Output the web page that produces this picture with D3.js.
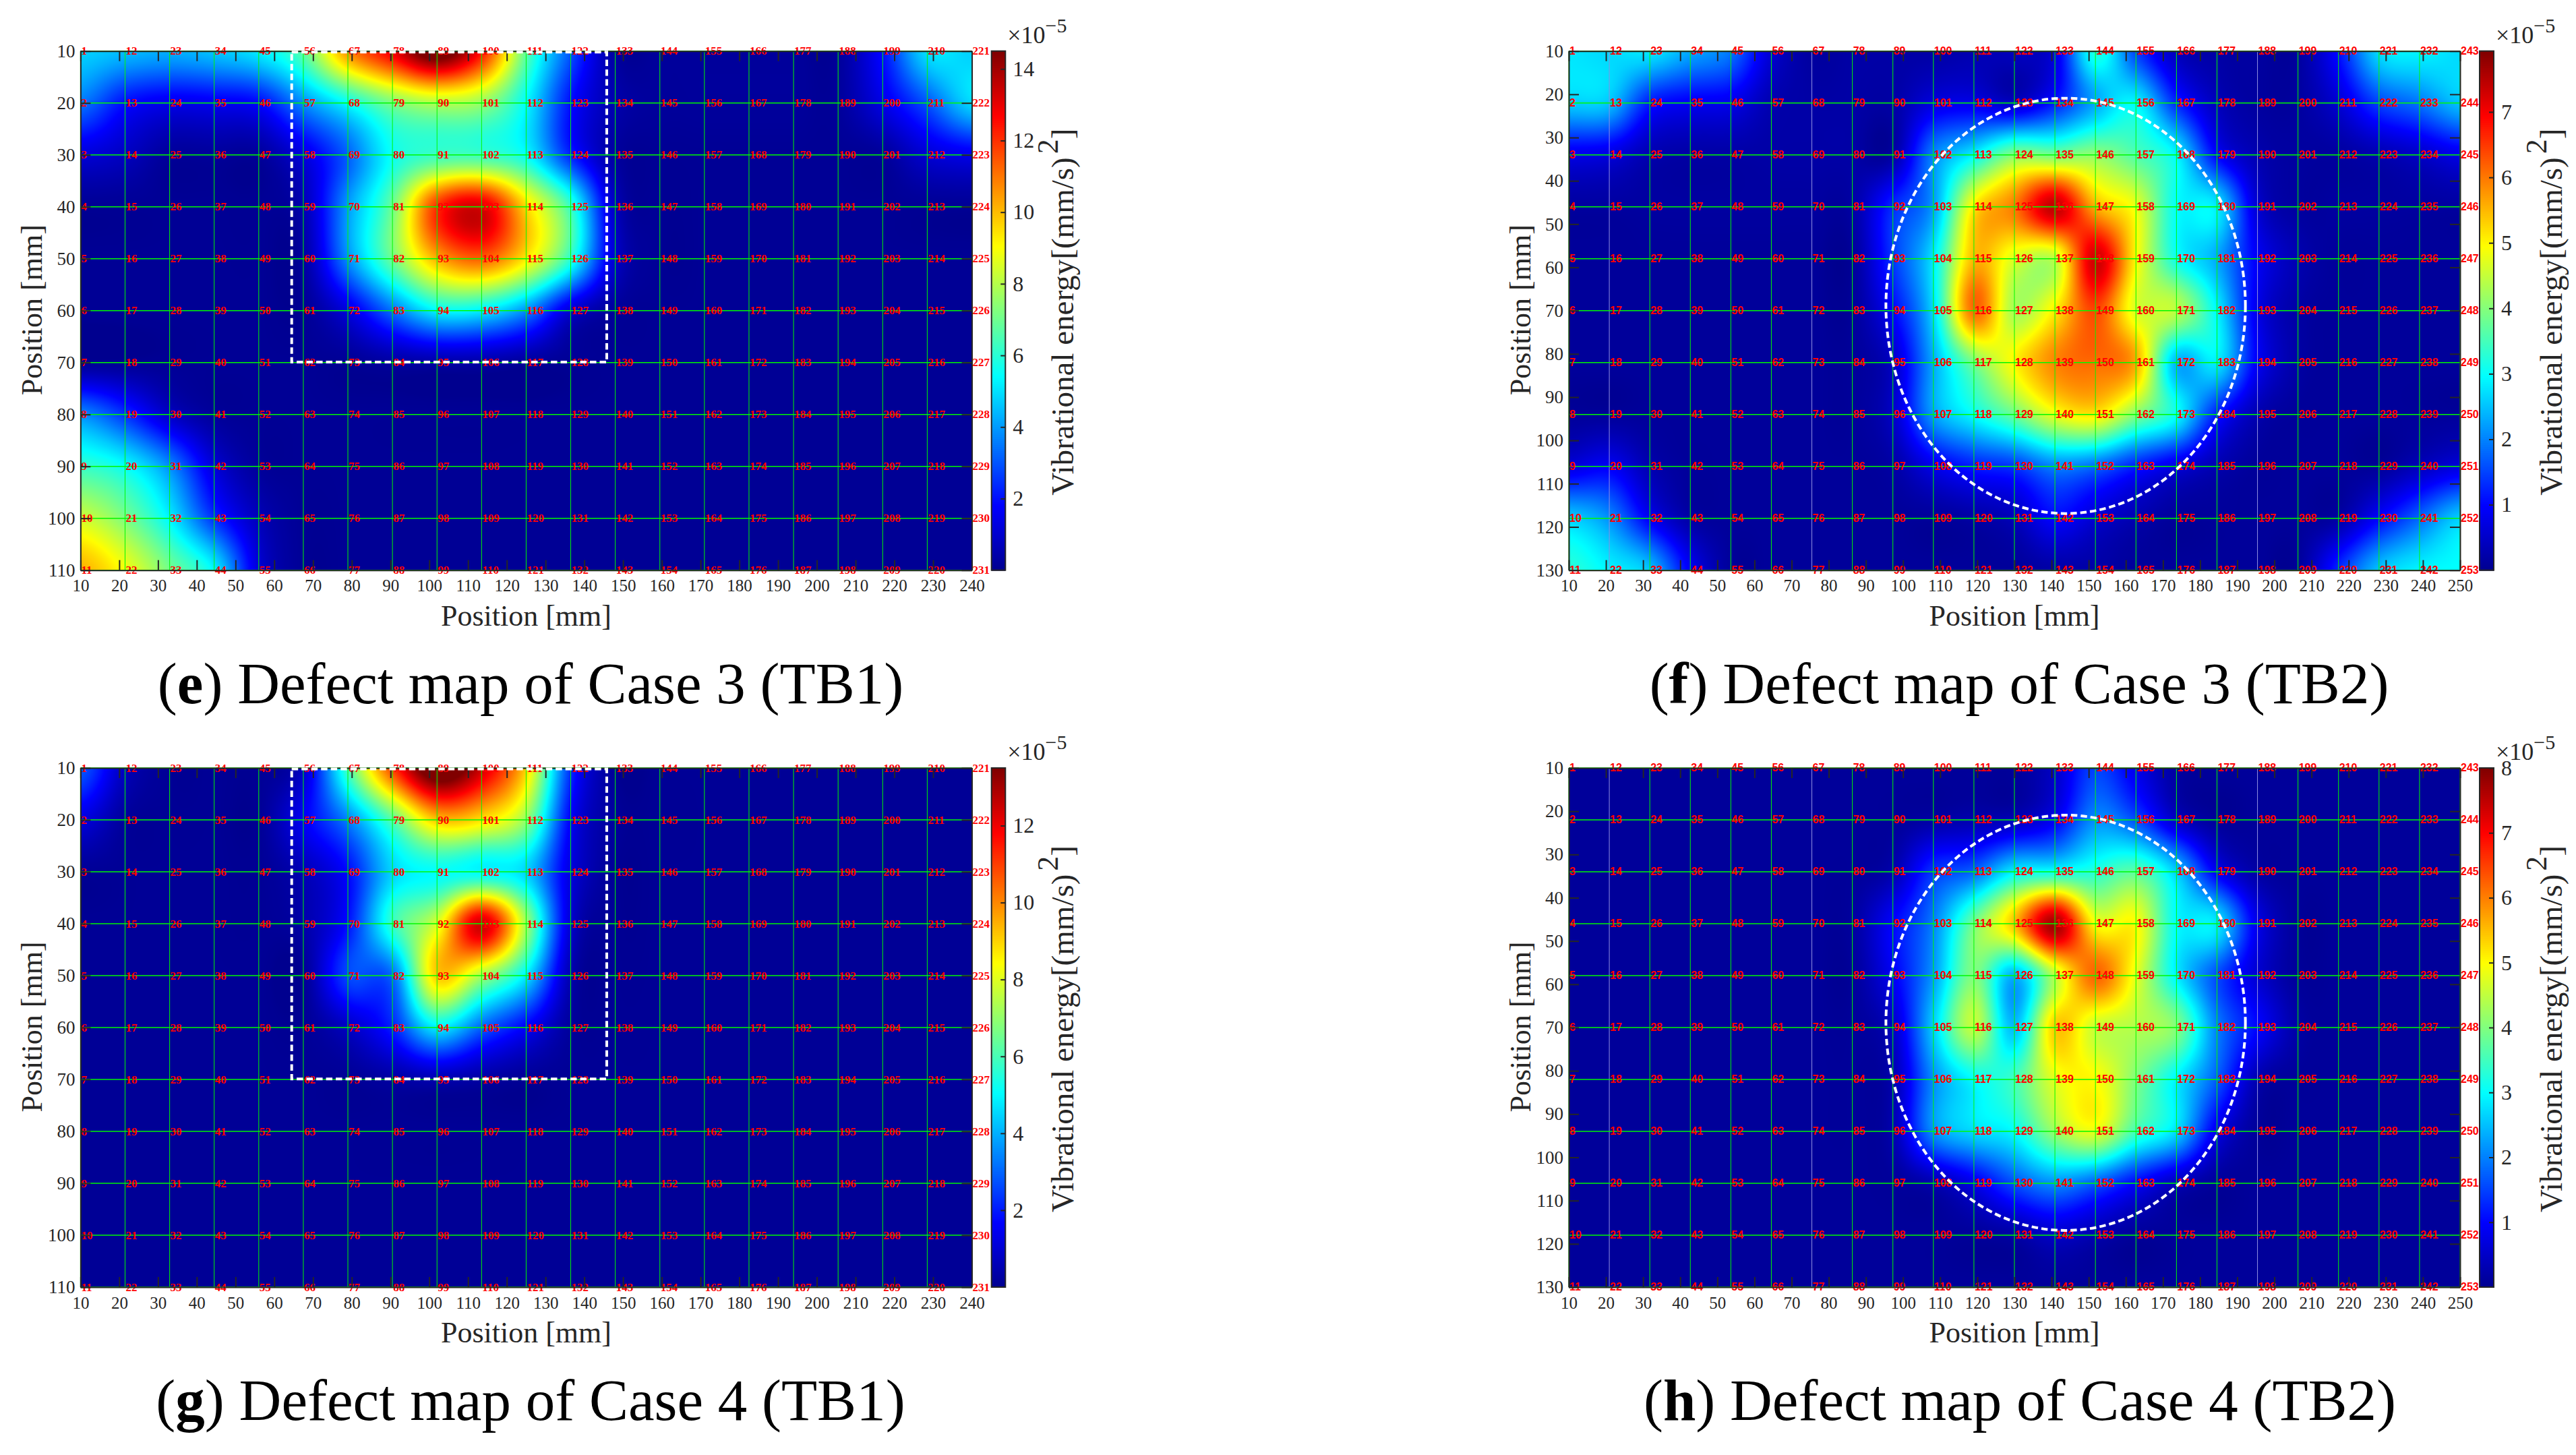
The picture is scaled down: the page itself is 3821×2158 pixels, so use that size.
<!DOCTYPE html>
<html>
<head>
<meta charset="utf-8">
<script src="https://cdnjs.cloudflare.com/ajax/libs/d3/7.8.5/d3.min.js"></script>
<style>
  body { margin: 0; background: #fff; }
  svg { display: block; }
</style>
</head>
<body>
<script>
// vibrational energy at the numbered measuring points, unit 1e-5 (mm/s)^2, one row per y position
const valuesE = [
  [4.8,4.5,4.3,4.6,5.2,6.8,10.7,13,15.3,12.5,6.8,3,.3,.2,.2,.2,.2,.2,2,5,4.8],
  [3.5,2,1.5,1.6,1.9,3.8,5.5,7.2,8,7.6,5.4,2,.5,.2,.2,.2,.2,.2,1.4,3,4.9],
  [1.2,.8,.2,.2,.2,1.3,3.2,5.6,6.3,6.3,5.5,2.3,.3,.1,.1,.1,.1,.1,.2,1.1,1.5],
  [.1,.1,.1,.1,.1,.6,4,7,12,13.2,9.6,6.2,.8,.1,.1,.1,.1,.1,.1,.1,.1],
  [.1,.1,.1,.1,.1,.3,3.8,7,10.2,11.3,9.3,6,1,.1,.1,.1,.1,.1,.1,.1,.1],
  [.1,.1,.1,.1,.1,.1,1.3,3.4,5.3,5.2,3.8,1.1,.2,.1,.1,.1,.1,.1,.1,.1,.1],
  [.1,.1,.1,.1,.1,.1,.1,.3,.4,.4,.2,.1,.1,.1,.1,.1,.1,.1,.1,.1,.1],
  [3.8,2.5,.9,.2,.1,.1,.1,.1,.1,.1,.1,.1,.1,.1,.1,.1,.1,.1,.1,.1,.1],
  [6.2,5.5,3.8,1.2,.2,.1,.1,.1,.1,.1,.1,.1,.1,.1,.1,.1,.1,.1,.1,.1,.1],
  [8.4,7.2,5.3,2.5,.7,.1,.1,.1,.1,.1,.1,.1,.1,.1,.1,.1,.1,.1,.1,.1,.1],
  [10.2,8.9,7.1,5.3,1.2,.1,.1,.1,.1,.1,.1,.1,.1,.1,.1,.1,.1,.1,.1,.1,.1]
];
const valuesF = [
  [2.8,2.7,2.8,2.3,1.9,.6,.15,.2,.2,.2,.3,.4,.7,3.2,1.5,.4,.2,.15,.15,1.1,2.7,2.9,2.7],
  [2.6,2.5,1.2,.9,.8,.3,.2,.2,.2,.7,.8,.5,1.2,2.3,2.9,1.3,.4,.15,.15,.6,1.5,1.9,2.5],
  [.8,.7,.3,.2,.2,.2,.2,.2,.2,2,2.9,4,3.9,4.1,3.6,2.9,1,.3,.15,.15,.3,.5,.8],
  [.15,.15,.15,.15,.15,.15,.15,.2,1.3,2.2,5.1,6,7.4,5.6,4.8,3,2.8,.6,.15,.15,.15,.15,.15],
  [.1,.1,.1,.1,.1,.1,.1,.1,1.4,2.8,5.5,4.7,4.5,7.3,5,3.1,2.3,.9,.3,.1,.1,.1,.1],
  [.1,.1,.1,.1,.1,.1,.1,.1,1,2.7,6.1,4.3,5.1,6.4,4.7,4.4,2.9,.8,.2,.1,.1,.1,.1],
  [.1,.1,.1,.1,.1,.1,.1,.1,.5,2.3,3.9,5,5.9,6.1,5.6,2.4,2.8,.9,.2,.1,.1,.1,.1],
  [.1,.1,.1,.1,.1,.1,.1,.1,.5,2.2,3,3.8,4.8,5.1,4,3,1.2,.3,.1,.1,.1,.1,.1],
  [.7,.9,.3,.1,.1,.1,.1,.1,.2,.8,1.2,1.4,2,1.8,1.2,.7,.3,.1,.1,.1,.1,.4,.7],
  [2.6,2.1,.9,.2,.1,.1,.1,.1,.1,.1,.2,.4,1,.6,.3,.1,.1,.1,.1,.2,1,1.8,2.6],
  [3.3,2.9,2.5,.9,.1,.1,.1,.1,.1,.1,.1,.1,.2,.2,.1,.1,.1,.1,.1,1.3,2.5,2.9,3]
];
const valuesG = [
  [2.9,.7,.1,.1,.1,.9,6,11,14.5,12.5,9,2.3,.1,.1,.1,.1,.1,.1,.1,.1,.1],
  [1.2,.2,.1,.1,.1,1.5,3.4,6.2,9.2,8.8,7,1.6,.2,.1,.1,.1,.1,.1,.1,.1,.1],
  [.1,.1,.1,.1,.1,.6,1.8,4.5,5.1,5,4.5,1.2,.1,.1,.1,.1,.1,.1,.1,.1,.1],
  [.1,.1,.1,.1,.1,.4,1.9,5.7,8,12.4,7.2,1,.1,.1,.1,.1,.1,.1,.1,.1,.1],
  [.1,.1,.1,.1,.1,.1,2.6,3.1,9.1,7.3,4.8,.5,.1,.1,.1,.1,.1,.1,.1,.1,.1],
  [.1,.1,.1,.1,.1,.1,.8,2.1,4.8,3,1.6,.2,.1,.1,.1,.1,.1,.1,.1,.1,.1],
  [.1,.1,.1,.1,.1,.1,.1,.3,.5,.3,.1,.1,.1,.1,.1,.1,.1,.1,.1,.1,.1],
  [.1,.1,.1,.1,.1,.1,.1,.1,.1,.1,.1,.1,.1,.1,.1,.1,.1,.1,.1,.1,.1],
  [.1,.1,.1,.1,.1,.1,.1,.1,.1,.1,.1,.1,.1,.1,.1,.1,.1,.1,.1,.1,.1],
  [.1,.1,.1,.1,.1,.1,.1,.1,.1,.1,.1,.1,.1,.1,.1,.1,.1,.1,.1,.1,.1],
  [.1,.1,.1,.1,.1,.1,.1,.1,.1,.1,.1,.1,.1,.1,.1,.1,.1,.1,.1,.1,.1]
];
const valuesH = [
  [.1,.1,.1,.1,.1,.1,.1,.1,.1,.1,.1,.1,.5,1.5,.8,.15,.1,.1,.1,.1,.1,.1,.1],
  [.1,.1,.1,.1,.1,.1,.1,.1,.1,.2,.3,.4,.9,2.1,1.6,.5,.1,.1,.1,.1,.1,.1,.1],
  [.1,.1,.1,.1,.1,.1,.1,.1,.3,1.4,1.8,2.9,3.1,3.3,3.7,2.6,.9,.2,.1,.1,.1,.1,.1],
  [.1,.1,.1,.1,.1,.1,.1,.15,1,2,3.9,5.5,7.7,5,5,3,2.8,.8,.1,.1,.1,.1,.1],
  [.1,.1,.1,.1,.1,.1,.1,.1,.9,2.2,4,2.4,4.5,6.2,4.8,2.9,1.6,.6,.1,.1,.1,.1,.1],
  [.1,.1,.1,.1,.1,.1,.1,.1,.5,2.6,4.5,2.5,5.4,4.6,4.4,4,2,1,.2,.1,.1,.1,.1],
  [.1,.1,.1,.1,.1,.1,.1,.1,.3,2.1,3,3.5,4.8,5,4,2.9,1.7,.3,.1,.1,.1,.1,.1],
  [.1,.1,.1,.1,.1,.1,.1,.1,.3,2.1,2.7,3,4.2,4.8,3.5,2.7,.8,.1,.1,.1,.1,.1,.1],
  [.1,.1,.1,.1,.1,.1,.1,.1,.1,.3,.8,1.6,2.1,1.7,1,.4,.1,.1,.1,.1,.1,.1,.1],
  [.1,.1,.1,.1,.1,.1,.1,.1,.1,.1,.1,.2,.5,.3,.1,.1,.1,.1,.1,.1,.1,.1,.1],
  [.1,.1,.1,.1,.1,.1,.1,.1,.1,.1,.1,.1,.1,.1,.1,.1,.1,.1,.1,.1,.1,.1,.1]
];

// tick labels
const xTicksTB1 = d3.range(10, 241, 10);
const yTicksTB1 = d3.range(10, 111, 10);
const xTicksTB2 = d3.range(10, 251, 10);
const yTicksTB2 = d3.range(10, 131, 10);
const barTicksE = [2, 4, 6, 8, 10, 12, 14];
const barTicksF = [1, 2, 3, 4, 5, 6, 7];
const barTicksG = [2, 4, 6, 8, 10, 12];
const barTicksH = [1, 2, 3, 4, 5, 6, 7, 8];

// top of colour bar in 1e-5 units
const barMaxE = 14.5, barMaxF = 7.93, barMaxG = 13.5, barMaxH = 8;

// defect outlines in mm
const squareTB1 = { x0: 64.5, x1: 145.8, y0: 10.2, y1: 69.9 };
const circleTB2 = { cx: 143.8, cy: 68.9, rx: 48.4, ry: 48 };

// matlab jet
const jetStops = [0, .125, .375, .625, .875, 1];
const jetColors = ["#00008f", "#0000ff", "#00ffff", "#ffff00", "#ff0000", "#800000"];

const ink = "#262626";
const gridGreen = "#00f800";

const svg = d3.select("body").append("svg").attr("width", 3821).attr("height", 2158);

function cubic(a, b, c, d, t) {
  return b + 0.5 * t * (c - a + t * (2 * a - 5 * b + 4 * c - d + t * (3 * (b - c) + d - a)));
}

// smooth the measured points to the pixels of the plot
function smooth(values, col, row) {
  const nr = values.length, nc = values[0].length;
  const r0 = Math.min(Math.floor(row), nr - 2), c0 = Math.min(Math.floor(col), nc - 2);
  const at = (r, c) => values[Math.max(0, Math.min(nr - 1, r))][Math.max(0, Math.min(nc - 1, c))];
  const across = d3.range(-1, 3).map(dr =>
    cubic(at(r0 + dr, c0 - 1), at(r0 + dr, c0), at(r0 + dr, c0 + 1), at(r0 + dr, c0 + 2), col - c0));
  return cubic(across[0], across[1], across[2], across[3], row - r0);
}

function drawPanel(p) {
  const nr = p.values.length, nc = p.values[0].length;
  const x = d3.scaleLinear().domain(d3.extent(p.xTicks)).range([p.left, p.right]);
  const y = d3.scaleLinear().domain(d3.extent(p.yTicks)).range([p.top, p.bottom]);
  const col = d3.scaleLinear().domain([0, nc - 1]).range([p.left, p.right]);
  const row = d3.scaleLinear().domain([0, nr - 1]).range([p.top, p.bottom]);
  const bar = d3.scaleLinear().domain([0, p.barMax]).range([p.bottom, p.top]);
  const jet = d3.scaleLinear().domain(jetStops.map(s => s * p.barMax)).range(jetColors).clamp(true);

  // heat map
  const w = Math.round(p.right - p.left), h = Math.round(p.bottom - p.top);
  const canvas = document.createElement("canvas");
  canvas.width = w; canvas.height = h;
  const ctx = canvas.getContext("2d");
  const img = ctx.createImageData(w, h);
  const lut = d3.range(1024).map(i => d3.rgb(jet(i / 1023 * p.barMax)));
  for (let j = 0; j < h; j++) {
    const rr = row.invert(p.top + j + .5);
    for (let i = 0; i < w; i++) {
      const v = smooth(p.values, col.invert(p.left + i + .5), rr);
      const c = lut[Math.max(0, Math.min(1023, Math.round(v / p.barMax * 1023)))];
      const k = (j * w + i) * 4;
      img.data[k] = c.r; img.data[k + 1] = c.g; img.data[k + 2] = c.b; img.data[k + 3] = 255;
    }
  }
  ctx.putImageData(img, 0, 0);
  svg.append("image").attr("x", p.left).attr("y", p.top).attr("width", w).attr("height", h)
    .attr("href", canvas.toDataURL());

  // point grid
  svg.append("g").selectAll("line").data(d3.range(nc)).join("line")
    .attr("x1", col).attr("x2", col).attr("y1", p.top).attr("y2", p.bottom)
    .attr("stroke", c => p.thinCols.includes(c) ? "#8f8fe0" : gridGreen).attr("stroke-width", 1);
  svg.append("g").selectAll("line").data(d3.range(nr)).join("line")
    .attr("x1", p.left).attr("x2", p.right).attr("y1", row).attr("y2", row)
    .attr("stroke", gridGreen).attr("stroke-width", 1.5);

  // point numbers
  const points = d3.cross(d3.range(nc), d3.range(nr));
  svg.append("g").attr("fill", "#ff0000").attr("font-weight", "bold")
    .attr("font-family", p.pointFont).attr("font-size", p.pointSize)
    .selectAll("text").data(points).join("text")
    .attr("x", d => col(d[0]) + 1).attr("y", d => row(d[1])).attr("dy", "0.34em")
    .text(d => d[0] * nr + d[1] + 1);

  // axes, ticks point inward
  const styleAxis = (g, size) => {
    g.attr("font-family", "'Liberation Serif', serif").attr("font-size", size).attr("color", ink);
    g.selectAll("path, line").attr("stroke", ink).attr("stroke-width", 2);
    g.selectAll("text").attr("fill", ink);
  };
  svg.append("g").attr("transform", `translate(0,${p.bottom})`)
    .call(d3.axisBottom(x).tickValues(p.xTicks).tickSizeInner(-15).tickSizeOuter(0).tickPadding(14))
    .call(styleAxis, 25);
  svg.append("g").attr("transform", `translate(0,${p.top})`)
    .call(d3.axisTop(x).tickValues(p.xTicks).tickSizeInner(-15).tickSizeOuter(0).tickFormat(""))
    .call(styleAxis, 25);
  svg.append("g").attr("transform", `translate(${p.left},0)`)
    .call(d3.axisLeft(y).tickValues(p.yTicks).tickSizeInner(-15).tickSizeOuter(0).tickPadding(8))
    .call(styleAxis, 27);
  svg.append("g").attr("transform", `translate(${p.right},0)`)
    .call(d3.axisRight(y).tickValues(p.yTicks).tickSizeInner(-15).tickSizeOuter(0).tickFormat(""))
    .call(styleAxis, 27);

  // defect outline
  const dash = svg.append("g").attr("fill", "none").attr("stroke", "#fff").attr("stroke-width", 4)
    .attr("stroke-dasharray", "9.5,5");
  if (p.square) {
    dash.append("rect").attr("x", x(p.square.x0)).attr("y", y(p.square.y0))
      .attr("width", x(p.square.x1) - x(p.square.x0)).attr("height", y(p.square.y1) - y(p.square.y0));
  } else {
    dash.append("ellipse").attr("cx", x(p.circle.cx)).attr("cy", y(p.circle.cy))
      .attr("rx", x(p.circle.rx) - x(0)).attr("ry", y(p.circle.ry) - y(0));
  }

  // colour bar
  svg.append("g").selectAll("rect").data(d3.range(0, 256)).join("rect")
    .attr("x", p.barLeft).attr("width", p.barRight - p.barLeft)
    .attr("y", i => bar((i + 1) / 256 * p.barMax))
    .attr("height", (p.bottom - p.top) / 256 + 1)
    .attr("fill", i => jet((i + .5) / 256 * p.barMax));
  svg.append("rect").attr("x", p.barLeft).attr("y", p.top)
    .attr("width", p.barRight - p.barLeft).attr("height", p.bottom - p.top)
    .attr("fill", "none").attr("stroke", ink).attr("stroke-width", 2);
  svg.append("g").attr("transform", `translate(${p.barRight},0)`)
    .call(d3.axisRight(bar).tickValues(p.barTicks).tickSizeInner(-7).tickSizeOuter(0).tickPadding(11))
    .call(styleAxis, 32).call(g => g.select(".domain").remove());

  // titles
  const serif = "'Liberation Serif', serif";
  svg.append("text").attr("x", (p.left + p.right) / 2).attr("y", p.bottom + 82)
    .attr("text-anchor", "middle").attr("font-family", serif).attr("font-size", 44).attr("fill", ink)
    .text("Position [mm]");
  svg.append("text").attr("text-anchor", "middle").attr("font-family", serif).attr("font-size", 44).attr("fill", ink)
    .attr("transform", `translate(${p.left - 57},${(p.top + p.bottom) / 2 - 1}) rotate(-90)`)
    .text("Position [mm]");
  const barTitle = svg.append("text").attr("text-anchor", "middle").attr("font-family", serif)
    .attr("font-size", 47).attr("fill", ink)
    .attr("transform", `translate(${p.barRight + 101},${(p.top + p.bottom) / 2 + 2}) rotate(-90)`);
  barTitle.append("tspan").text("Vibrational energy[(mm/s)");
  barTitle.append("tspan").attr("dy", -23).attr("font-size", 44).attr("dx", 5).text("2");
  barTitle.append("tspan").attr("dy", 23).text("]");
  const exp = svg.append("text").attr("x", p.barRight + 3).attr("y", p.top - 12)
    .attr("font-family", serif).attr("font-size", 36).attr("fill", ink);
  exp.append("tspan").text("×10");
  exp.append("tspan").attr("dy", -16).attr("font-size", 30).text("−5");

  // caption
  const cap = svg.append("text").attr("x", p.captionX).attr("y", p.bottom + 197).attr("text-anchor", "middle")
    .attr("font-family", serif).attr("font-size", 87).attr("fill", "#000");
  cap.append("tspan").text("(");
  cap.append("tspan").attr("font-weight", "bold").text(p.id);
  cap.append("tspan").text(") " + p.caption);
}

const serifBold = "'Liberation Serif', serif";
const sansBold = "'Liberation Sans', sans-serif";

drawPanel({ id: "e", caption: "Defect map of Case 3 (TB1)", values: valuesE, xTicks: xTicksTB1, yTicks: yTicksTB1,
  barTicks: barTicksE, barMax: barMaxE, square: squareTB1, thinCols: [],
  left: 119.4, right: 1441.5, top: 75.7, bottom: 845.7, barLeft: 1470.7, barRight: 1491.3, captionX: 787,
  pointFont: serifBold, pointSize: 17 });
drawPanel({ id: "f", caption: "Defect map of Case 3 (TB2)", values: valuesF, xTicks: xTicksTB2, yTicks: yTicksTB2,
  barTicks: barTicksF, barMax: barMaxF, circle: circleTB2, thinCols: [1, 6, 17],
  left: 2327, right: 3649, top: 75.7, bottom: 845.7, barLeft: 3678, barRight: 3699, captionX: 2995,
  pointFont: sansBold, pointSize: 16 });
drawPanel({ id: "g", caption: "Defect map of Case 4 (TB1)", values: valuesG, xTicks: xTicksTB1, yTicks: yTicksTB1,
  barTicks: barTicksG, barMax: barMaxG, square: squareTB1, thinCols: [],
  left: 119.4, right: 1441.5, top: 1139, bottom: 1909, barLeft: 1470.7, barRight: 1491.3, captionX: 787,
  pointFont: serifBold, pointSize: 17 });
drawPanel({ id: "h", caption: "Defect map of Case 4 (TB2)", values: valuesH, xTicks: xTicksTB2, yTicks: yTicksTB2,
  barTicks: barTicksH, barMax: barMaxH, circle: circleTB2, thinCols: [1, 6, 17],
  left: 2327, right: 3649, top: 1139, bottom: 1909, barLeft: 3678, barRight: 3699, captionX: 2996,
  pointFont: sansBold, pointSize: 16 });
</script>
</body>
</html>
